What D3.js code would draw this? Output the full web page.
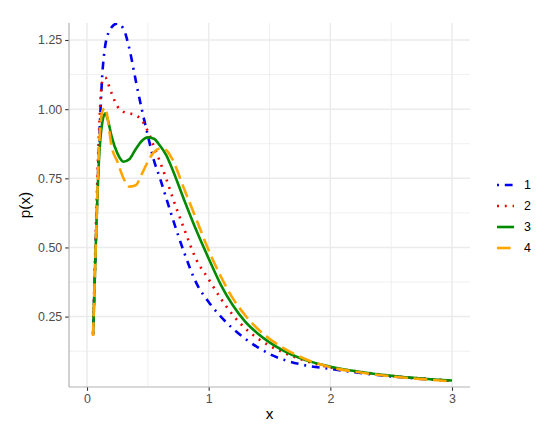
<!DOCTYPE html>
<html><head><meta charset="utf-8">
<script src="https://cdn.jsdelivr.net/npm/d3@7"></script>
<style>body{margin:0;background:#fff}svg{display:block}</style>
</head><body>
<svg id="chart" width="550" height="434"></svg>
<script>
const xs = [0.05,0.075,0.1,0.125,0.15,0.175,0.2,0.25,0.3,0.35,0.4,0.45,0.5,0.55,0.6,0.65,0.7,0.8,0.9,1.0,1.1,1.2,1.3,1.4,1.5,1.75,2.0,2.25,2.5,2.75,3.0];
const series1 = [0.185,0.55,0.88,1.12,1.23,1.275,1.295,1.31,1.29,1.215,1.105,1.0,0.905,0.815,0.75,0.68,0.61,0.48,0.37,0.303,0.25,0.206,0.17,0.14,0.115,0.078,0.061,0.046,0.034,0.025,0.018];
const series2 = [0.19,0.6,0.93,1.1,1.115,1.09,1.06,1.01,0.99,0.985,0.978,0.96,0.92,0.865,0.81,0.75,0.685,0.565,0.455,0.385,0.315,0.255,0.208,0.172,0.145,0.097,0.066,0.05,0.036,0.026,0.018];
const series3 = [0.185,0.55,0.83,0.95,0.985,0.955,0.905,0.84,0.81,0.82,0.855,0.885,0.898,0.893,0.868,0.835,0.785,0.67,0.56,0.46,0.365,0.29,0.232,0.19,0.157,0.1,0.069,0.05,0.036,0.026,0.019];
const series4 = [0.18,0.55,0.87,0.99,1.005,0.95,0.87,0.81,0.75,0.72,0.725,0.765,0.81,0.845,0.858,0.852,0.82,0.71,0.6,0.49,0.395,0.315,0.255,0.207,0.17,0.105,0.067,0.048,0.034,0.024,0.016];
const seriesNames = ["1","2","3","4"];
const seriesColors = ["#0000EE","#EE0000","#008B00","#FFA500"];
const xTicks = [0,1,2,3];
const yTicks = [0.25,0.5,0.75,1.0,1.25];

const u = 1.95;
const dashes = [[1*u,3*u,4*u,3*u].join(","), [1*u,3*u].join(","), null, [7*u,3*u].join(",")];

const svg = d3.select("#chart");
const L = 69, R = 470, T = 23, B = 387;
const x = d3.scaleLinear().domain([-0.148, 3.148]).range([L, R]);
const y = d3.scaleLinear().domain([-0.0045, 1.3115]).range([B, T]);

const font = "'Liberation Sans', Arial, sans-serif";

// grid
const g = svg.append("g");
const xMinor = [0.5,1.5,2.5];
const yMinor = [0.125,0.375,0.625,0.875,1.125];
g.selectAll(".xm").data(xMinor).enter().append("line")
  .attr("x1",d=>x(d)).attr("x2",d=>x(d)).attr("y1",T).attr("y2",B)
  .attr("stroke","#EBEBEB").attr("stroke-width",0.75);
g.selectAll(".ym").data(yMinor).enter().append("line")
  .attr("x1",L).attr("x2",R).attr("y1",d=>y(d)).attr("y2",d=>y(d))
  .attr("stroke","#EBEBEB").attr("stroke-width",0.75);
g.selectAll(".xM").data(xTicks).enter().append("line")
  .attr("x1",d=>x(d)).attr("x2",d=>x(d)).attr("y1",T).attr("y2",B)
  .attr("stroke","#EBEBEB").attr("stroke-width",1.5);
g.selectAll(".yM").data(yTicks).enter().append("line")
  .attr("x1",L).attr("x2",R).attr("y1",d=>y(d)).attr("y2",d=>y(d))
  .attr("stroke","#EBEBEB").attr("stroke-width",1.5);

// lines
svg.append("clipPath").attr("id","clip").append("rect")
  .attr("x",L).attr("y",T).attr("width",R-L).attr("height",B-T);
const allSeries = [series1,series2,series3,series4];
const line = d3.line().x((d,i)=>x(xs[i])).y(d=>y(d)).curve(d3.curveMonotoneX);
const lg = svg.append("g").attr("clip-path","url(#clip)");
allSeries.forEach((s,k)=>{
  lg.append("path").attr("d",line(s)).attr("fill","none")
    .attr("stroke",seriesColors[k]).attr("stroke-width",2.6)
    .attr("stroke-dasharray",dashes[k]).attr("stroke-linejoin","round");
});

// axes
const xAxis = d3.axisBottom(x).tickValues(xTicks).tickFormat(d3.format("d")).tickSize(3.8).tickPadding(3);
const yAxis = d3.axisLeft(y).tickValues(yTicks).tickFormat(d3.format(".2f")).tickSize(3.8).tickPadding(3);
const gx = svg.append("g").attr("transform",`translate(0,${B})`).call(xAxis);
const gy = svg.append("g").attr("transform",`translate(${L},0)`).call(yAxis);
[gx,gy].forEach(a=>{
  a.select(".domain").remove();
  a.selectAll(".tick line").attr("stroke","#333333").attr("stroke-width",1.1);
  a.selectAll(".tick text").attr("fill","#4D4D4D").style("font-family",font).style("font-size","12.4px");
});
svg.append("line").attr("x1",L).attr("x2",L).attr("y1",T).attr("y2",B).attr("stroke","#B3B3B3").attr("stroke-width",1.2);
svg.append("line").attr("x1",L).attr("x2",R).attr("y1",B).attr("y2",B).attr("stroke","#B3B3B3").attr("stroke-width",1.2);

// titles
svg.append("text").attr("x",(L+R)/2).attr("y",419).attr("text-anchor","middle")
  .style("font-family",font).style("font-size","15.3px").attr("fill","#000").text("x");
svg.append("text").attr("transform",`translate(30,${(T+B)/2}) rotate(-90)`).attr("text-anchor","middle")
  .style("font-family",font).style("font-size","15.3px").attr("fill","#000").text("p(x)");

// legend
const leg = svg.append("g");
seriesNames.forEach((n,k)=>{
  const cy = 185 + k*21;
  leg.append("line").attr("x1",497).attr("x2",514).attr("y1",cy).attr("y2",cy)
    .attr("stroke",seriesColors[k]).attr("stroke-width",2.6).attr("stroke-dasharray",dashes[k]);
  leg.append("text").attr("x",524).attr("y",cy).attr("dy","0.35em")
    .style("font-family",font).style("font-size","12.4px").attr("fill","#000").text(n);
});
</script>
</body></html>
